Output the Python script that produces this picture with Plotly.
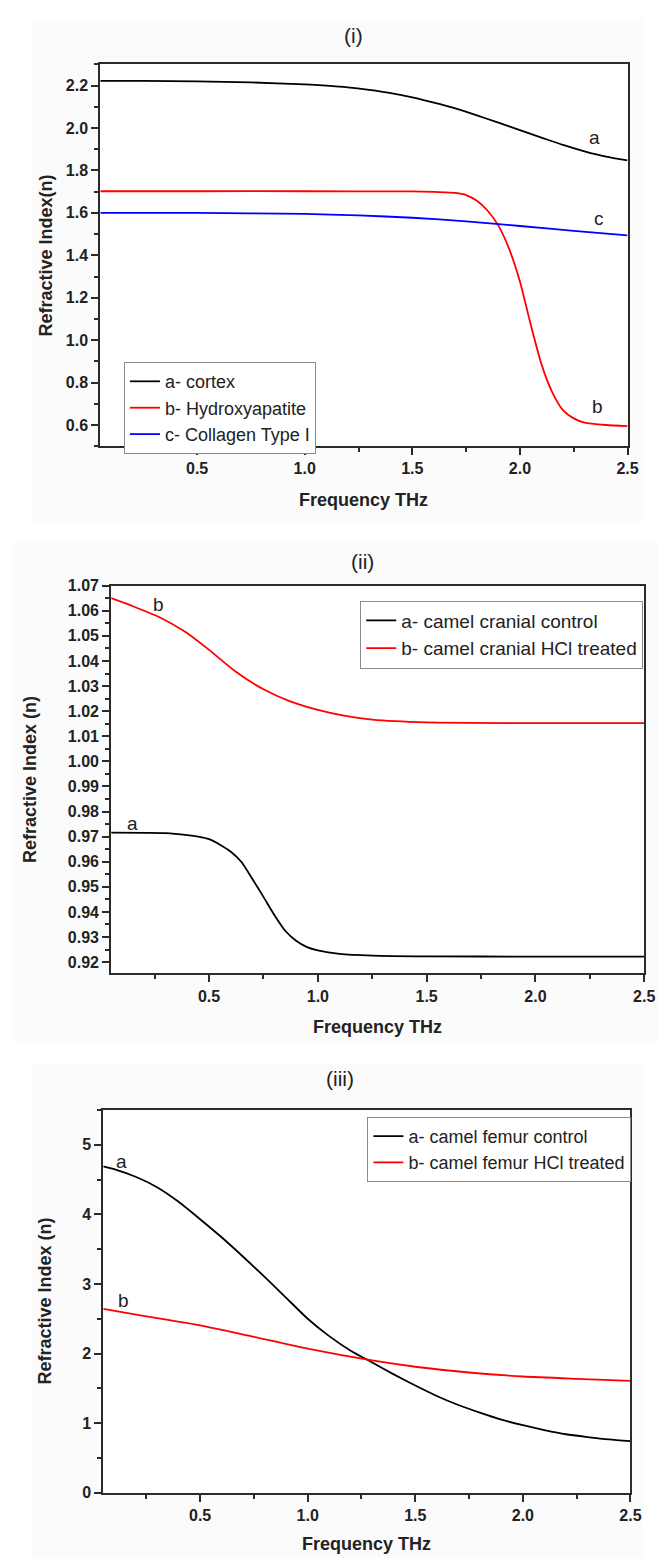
import plotly.graph_objects as go

# ---------------- data ----------------
# Panel (i)
freq_cortex = [0.05, 0.25, 0.5, 0.75, 1.0, 1.1, 1.2, 1.3, 1.4, 1.5, 1.6, 1.7, 1.8, 1.9, 2.0, 2.1, 2.2, 2.3, 2.4, 2.5]
n_cortex = [2.222, 2.222, 2.220, 2.215, 2.206, 2.200, 2.192, 2.180, 2.165, 2.145, 2.120, 2.093, 2.060, 2.025,
            1.990, 1.955, 1.920, 1.890, 1.865, 1.847]
freq_hydroxy = [0.05, 0.5, 1.0, 1.5, 1.6, 1.65, 1.7, 1.75, 1.8, 1.85, 1.9, 1.95, 2.0, 2.05, 2.1, 2.15, 2.2,
                2.25, 2.3, 2.4, 2.5]
n_hydroxy = [1.702, 1.702, 1.702, 1.701, 1.699, 1.697, 1.694, 1.684, 1.657, 1.610, 1.540, 1.430, 1.276,
             1.074, 0.887, 0.755, 0.670, 0.631, 0.611, 0.600, 0.595]
freq_collagen = [0.05, 0.5, 1.0, 1.25, 1.5, 1.75, 2.0, 2.25, 2.5]
n_collagen = [1.600, 1.600, 1.595, 1.588, 1.577, 1.560, 1.538, 1.515, 1.494]

# Panel (ii)
freq_cranial_hcl = [0.05, 0.15, 0.27, 0.39, 0.5, 0.62, 0.75, 0.87, 1.0, 1.12, 1.25, 1.5, 2.0, 2.5]
n_cranial_hcl = [1.0650, 1.0618, 1.0575, 1.0516, 1.0444, 1.0359, 1.0287, 1.0240, 1.0205, 1.0182, 1.0166,
                 1.0155, 1.0152, 1.0152]
freq_cranial_ctrl = [0.05, 0.3, 0.4, 0.45, 0.5, 0.55, 0.6, 0.65, 0.7, 0.75, 0.8, 0.85, 0.9, 0.95, 1.0, 1.1,
                     1.25, 1.5, 2.0, 2.5]
n_cranial_ctrl = [0.9716, 0.9714, 0.9706, 0.9700, 0.9690, 0.9668, 0.9640, 0.9598, 0.9530, 0.9460, 0.9388,
                  0.9325, 0.9285, 0.9260, 0.9247, 0.9233, 0.9226, 0.9223, 0.9222, 0.9222]

# Panel (iii)
freq_femur_ctrl = [0.05, 0.1, 0.2, 0.3, 0.4, 0.5, 0.6, 0.7, 0.8, 0.9, 1.0, 1.1, 1.2, 1.3, 1.4, 1.5, 1.6, 1.7,
                   1.8, 1.9, 2.0, 2.1, 2.2, 2.3, 2.4, 2.5]
n_femur_ctrl = [4.69, 4.65, 4.54, 4.39, 4.18, 3.93, 3.67, 3.39, 3.10, 2.80, 2.50, 2.25, 2.04, 1.87, 1.70,
                1.54, 1.39, 1.26, 1.15, 1.05, 0.97, 0.90, 0.84, 0.80, 0.765, 0.74]
freq_femur_hcl = [0.05, 0.25, 0.5, 0.75, 1.0, 1.3, 1.5, 1.75, 2.0, 2.25, 2.5]
n_femur_hcl = [2.64, 2.535, 2.405, 2.24, 2.07, 1.90, 1.81, 1.727, 1.67, 1.637, 1.608]

x_ticks = [0.5, 1.0, 1.5, 2.0, 2.5]

# ---------------- figure ----------------
W, H = 669, 1567
FONT = "Liberation Sans, Arial, sans-serif"
AX = "#2b2b2b"


def px(xp):
    return xp / W


def py(yp):
    return 1 - yp / H


fig = go.Figure()


def line(color):
    return dict(color=color, width=1.8, shape="spline", smoothing=0.6)


fig.add_trace(go.Scatter(x=freq_cortex, y=n_cortex, mode="lines", name="a- cortex",
                         line=line("black"), xaxis="x", yaxis="y", legend="legend"))
fig.add_trace(go.Scatter(x=freq_hydroxy, y=n_hydroxy, mode="lines", name="b- Hydroxyapatite",
                         line=line("#ff0000"), xaxis="x", yaxis="y", legend="legend"))
fig.add_trace(go.Scatter(x=freq_collagen, y=n_collagen, mode="lines", name="c- Collagen Type I",
                         line=line("#0000ff"), xaxis="x", yaxis="y", legend="legend"))

fig.add_trace(go.Scatter(x=freq_cranial_ctrl, y=n_cranial_ctrl, mode="lines", name="a- camel cranial control",
                         line=line("black"), xaxis="x2", yaxis="y2", legend="legend2"))
fig.add_trace(go.Scatter(x=freq_cranial_hcl, y=n_cranial_hcl, mode="lines", name="b- camel cranial HCl treated",
                         line=line("#ff0000"), xaxis="x2", yaxis="y2", legend="legend2"))

fig.add_trace(go.Scatter(x=freq_femur_ctrl, y=n_femur_ctrl, mode="lines", name="a- camel femur control",
                         line=line("black"), xaxis="x3", yaxis="y3", legend="legend3"))
fig.add_trace(go.Scatter(x=freq_femur_hcl, y=n_femur_hcl, mode="lines", name="b- camel femur HCl treated",
                         line=line("#ff0000"), xaxis="x3", yaxis="y3", legend="legend3"))

tickfont = dict(family=FONT, size=16, color="#222", weight="bold")


def xaxis(domain, anchor):
    return dict(domain=domain, anchor=anchor, range=[0.05, 2.5], tickvals=x_ticks, tickformat=".1f",
                ticks="outside", ticklen=7, tickwidth=1.5, tickcolor=AX,
                minor=dict(ticks="outside", ticklen=4, tickwidth=1.5, tickcolor=AX, dtick=0.25, tick0=0),
                showline=True, linecolor=AX, linewidth=2, mirror=True, showgrid=False, zeroline=False,
                tickfont=tickfont)


def yaxis(domain, anchor, rng, dtick, minor, fmt):
    return dict(domain=domain, anchor=anchor, range=rng, dtick=dtick, tick0=0, tickformat=fmt,
                ticks="outside", ticklen=7, tickwidth=1.5, tickcolor=AX,
                minor=dict(ticks="outside", ticklen=4, tickwidth=1.5, tickcolor=AX, dtick=minor, tick0=0),
                showline=True, linecolor=AX, linewidth=2, mirror=True, showgrid=False, zeroline=False,
                tickfont=tickfont)


dom = {
    1: ([px(102), px(638)], [py(443), py(57)]),
    2: ([px(113), px(655)], [py(976), py(584)]),
    3: ([px(105), px(641)], [py(1501), py(1114)]),
}

legend_common = dict(bgcolor="white", bordercolor="#8a8a8a", borderwidth=1, yanchor="top",
                     tracegroupgap=0)

fig.update_layout(
    width=W, height=H,
    margin=dict(l=0, r=0, t=0, b=0),
    paper_bgcolor="white", plot_bgcolor="white",
    xaxis=xaxis(dom[1][0], "y"),
    yaxis=yaxis(dom[1][1], "x", [0.5, 2.3], 0.2, 0.1, ".1f"),
    xaxis2=xaxis(dom[2][0], "y2"),
    yaxis2=yaxis(dom[2][1], "x2", [0.9155, 1.07], 0.01, 0.005, ".2f"),
    xaxis3=xaxis(dom[3][0], "y3"),
    yaxis3=yaxis(dom[3][1], "x3", [0, 5.5], 1, 0.5, "d"),
    legend=dict(x=px(126), y=py(358), xanchor="left",
                font=dict(family=FONT, size=18, color="#222"), **legend_common),
    legend2=dict(x=px(654), y=py(599), xanchor="right",
                 font=dict(family=FONT, size=19, color="#222"), **legend_common),
    legend3=dict(x=px(642), y=py(1121), xanchor="right",
                 font=dict(family=FONT, size=18, color="#222"), **legend_common),
    showlegend=True,
)

# faint panel backgrounds
shapes = []
for (x0, y0, x1, y1) in [(32, 13, 654, 520), (13, 540, 669, 1045), (32, 1067, 654, 1567)]:
    shapes.append(dict(type="rect", xref="paper", yref="paper", x0=px(x0), x1=px(x1), y0=py(y1), y1=py(y0),
                       fillcolor="#fbfbfb", line=dict(width=0), layer="below"))
for k in (1, 2, 3):
    shapes.append(dict(type="rect", xref="paper", yref="paper", x0=dom[k][0][0], x1=dom[k][0][1],
                       y0=dom[k][1][0], y1=dom[k][1][1], fillcolor="white", line=dict(width=0),
                       layer="below"))
fig.update_layout(shapes=shapes)

ann = []
titlefont = dict(family=FONT, size=18, color="#222", weight="bold")
# panel titles
for txt, xp_, yp_ in [("(i)", 359, 28), ("(ii)", 369, 560), ("(iii)", 346, 1082)]:
    ann.append(dict(text=txt, x=px(xp_), y=py(yp_), xref="paper", yref="paper", showarrow=False,
                    xanchor="center", yanchor="middle", font=dict(family=FONT, size=21, color="#222")))
# x titles
for yp_, k in [(497, 1), (1030, 2), (1553, 3)]:
    ann.append(dict(text="Frequency THz", x=(dom[k][0][0] + dom[k][0][1]) / 2, y=py(yp_), xref="paper",
                    yref="paper", showarrow=False, xanchor="center", yanchor="middle", font=titlefont))
# y titles
for txt, xp_, k in [("Refractive Index(n)", 47, 1), ("Refractive Index (n)", 30, 2),
                     ("Refractive Index (n)", 46, 3)]:
    ann.append(dict(text=txt, x=px(xp_), y=(dom[k][1][0] + dom[k][1][1]) / 2, xref="paper", yref="paper",
                    showarrow=False, textangle=-90, xanchor="center", yanchor="middle", font=titlefont))
# curve labels
lab_font = dict(family=FONT, size=19, color="#222")
for txt, x, y, xr, yr in [("a", 2.345, 1.955, "x", "y"), ("c", 2.366, 1.572, "x", "y"),
                          ("b", 2.36, 0.688, "x", "y"),
                          ("b", 0.268, 1.0624, "x2", "y2"), ("a", 0.147, 0.9752, "x2", "y2"),
                          ("a", 0.134, 4.76, "x3", "y3"), ("b", 0.142, 2.76, "x3", "y3")]:
    ann.append(dict(text=txt, x=x, y=y, xref=xr, yref=yr, showarrow=False, xanchor="center",
                    yanchor="middle", font=lab_font))
fig.update_layout(annotations=ann)

fig.write_html("out.html")
